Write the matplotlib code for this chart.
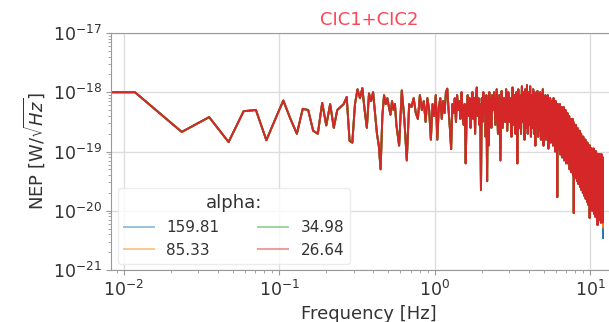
import numpy as np
import matplotlib
matplotlib.use("Agg")
import matplotlib.pyplot as plt

# frequency resolution of the spectrum (Hz per bin)
df_hz = 0.01177

k_low = np.arange(0, 49)
k_mid = np.arange(50, 201, 2)
k_high = np.arange(204, 1025, 4)

# log10(NEP) in W/sqrt(Hz)
nep_low = [
    -18.0, -18.0, -18.67, -18.42, -18.84, -18.32, -18.3, -18.81, -18.45, -18.14,
    -18.45, -18.7, -18.28, -18.3, -18.65, -18.7, -18.18, -18.56, -18.2, -18.6,
    -18.3, -18.25, -18.2, -18.08, -18.82, -18.85, -18.2, -17.95, -18.1, -17.93,
    -18.3, -18.6, -18.02, -18.15, -18.0, -18.35, -18.7, -18.9, -19.3, -18.4,
    -18.05, -18.2, -18.1, -18.25, -18.38, -18.15, -18.3, -18.2, -18.55,
]
nep_mid = [
    -18.9, -17.97, -18.45, -19.15, -18.2, -18.25, -18.1, -18.35, -18.45, -18.05,
    -18.3, -18.15, -18.5, -18.1, -18.3, -18.8, -18.2, -18.4, -18.05, -18.8,
    -18.25, -18.1, -18.45, -18.15, -18.35, -18.0, -17.94, -18.3, -18.6, -18.96,
    -18.2, -18.35, -18.1, -18.5, -18.05, -18.3, -18.15, -18.45, -18.0, -18.35,
    -18.55, -18.2, -19.2, -18.3, -18.05, -18.4, -18.1, -18.6, -18.2, -18.0,
    -18.45, -18.1, -18.7, -18.05, -17.92, -18.4, -18.1, -18.55, -18.2, -19.65,
    -18.1, -18.5, -18.0, -18.35, -18.1, -18.75, -18.05, -19.5, -18.15, -18.9,
    -18.0, -18.35, -18.1, -18.6, -18.05, -18.3,
]
nep_high = [
    -18.0, -18.55, -17.95, -18.7, -18.05, -19.15, -17.98, -18.6, -18.1, -18.5,
    -17.95, -18.65, -18.0, -18.5, -18.1, -18.75, -17.92, -18.55, -18.05, -18.7,
    -18.0, -19.2, -17.95, -18.6, -18.05, -18.7, -17.9, -18.5, -18.0, -18.8,
    -17.95, -18.6, -17.88, -18.7, -18.0, -18.55, -17.9, -18.75, -18.05, -18.6,
    -17.95, -18.7, -18.0, -18.9, -18.05, -18.6, -17.98, -18.75, -18.1, -18.65,
    -18.0, -18.8, -18.05, -18.65, -17.95, -18.9, -18.1, -18.7, -18.05, -18.8,
    -18.1, -18.75, -18.05, -18.95, -18.15, -18.7, -18.1, -18.85, -18.15, -18.75,
    -18.15, -18.9, -18.1, -18.8, -18.2, -19.0, -18.15, -18.85, -18.2, -19.77,
    -18.2, -18.95, -18.25, -18.9, -18.2, -19.05, -18.3, -18.95, -18.25, -19.1,
    -18.3, -19.0, -18.25, -19.15, -18.35, -19.05, -18.3, -19.2, -18.35, -19.1,
    -18.35, -19.2, -18.4, -19.1, -18.4, -19.3, -18.45, -19.2, -18.45, -19.35,
    -18.5, -19.25, -18.45, -19.4, -18.5, -20.04, -18.55, -19.3, -18.55, -19.45,
    -18.55, -19.4, -18.6, -19.5, -18.6, -19.45, -18.65, -19.55, -18.65, -19.5,
    -18.65, -19.6, -18.7, -19.5, -18.7, -19.65, -18.75, -19.6, -18.75, -19.7,
    -18.75, -19.65, -18.8, -19.75, -18.8, -19.7, -18.8, -19.8, -18.85, -19.75,
    -18.85, -19.85, -18.85, -19.8, -18.9, -19.9, -18.9, -19.85, -18.9, -20.12,
    -18.9, -19.9, -18.95, -19.95, -18.95, -19.9, -18.95, -20.0, -19.0, -19.95,
    -19.0, -20.0, -18.95, -20.05, -19.0, -20.0, -19.0, -20.1, -19.0, -20.05,
    -19.0, -20.1, -19.05, -20.05, -19.05, -20.24, -19.05, -20.1, -19.05, -20.15,
    -19.05, -20.1, -19.05, -20.15, -19.1, -20.1, -19.05, -20.2, -19.1, -20.1,
    -19.05, -20.15, -19.1, -20.2, -19.1, -20.1,
]

# the four curves only part at the last two bins
alpha_labels = ["159.81", "85.33", "34.98", "26.64"]
tails = [
    [-19.15, -20.46],
    [-19.1, -20.28],
    [-19.1, -20.15],
    [-19.1, -20.1],
]
colors = ["tab:blue", "tab:orange", "tab:green", "tab:red"]

k_all = np.concatenate([k_low, k_mid, k_high])
freq = df_hz * k_all
base = np.array(nep_low + nep_mid + nep_high)

fig = plt.figure(figsize=(6.09, 3.22), dpi=100)
ax = fig.add_axes([0.183, 0.1615, 0.8456, 0.736])

for lab, tail, c in zip(alpha_labels, tails, colors):
    vals = base.copy()
    vals[-2:] = tail
    ax.loglog(freq, 10.0 ** vals, color=c, lw=1.4, label=lab)

ax.set_xlim(0.00831, 17.04)
ax.set_ylim(1e-21, 1e-17)

ax.grid(True, which="major", color="#dddddd", lw=1.0)
ax.set_axisbelow(True)
for sp in ax.spines.values():
    sp.set_color("#999999")
ax.tick_params(which="both", colors="#999999", labelcolor="#333333",
               labelsize=12.5)

ax.set_xlabel("Frequency [Hz]", fontsize=13, color="#333333")
ax.set_ylabel(r"NEP [W/$\sqrt{Hz}$]", fontsize=13, color="#333333")
ax.set_title("CIC1+CIC2", fontsize=13, color="#ff4455")

leg = ax.legend(loc="lower left", ncol=2, title="alpha:", fontsize=11,
                title_fontsize=13, columnspacing=2.5, framealpha=0.8,
                borderaxespad=0.4)
leg.get_frame().set_edgecolor("#e8e8e8")
for h in leg.get_lines():
    h.set_alpha(0.45)
for t in leg.get_texts():
    t.set_color("#333333")
leg.get_title().set_color("#333333")

fig.savefig("out.png", dpi=100)
